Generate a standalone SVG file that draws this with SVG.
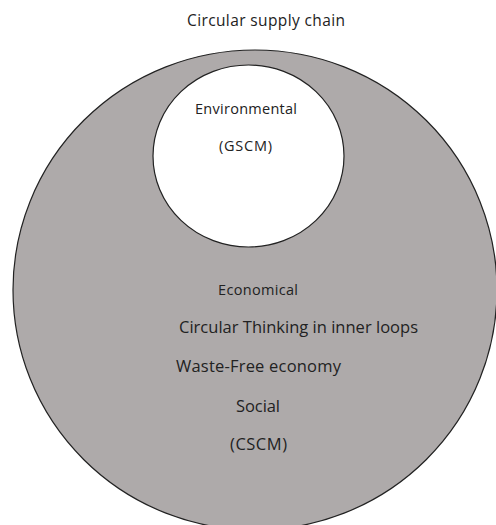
<svg xmlns="http://www.w3.org/2000/svg" width="496" height="525" viewBox="0 0 496 525">
<style>
text{font-family:"Open Sans","Noto Sans",sans-serif;fill:#222}
.s{font-size:14.5px}
.t{font-size:15.5px}
.l{font-size:16.5px}
</style>
<rect width="496" height="525" fill="#fff"/>
<text class="t" x="187" y="26" textLength="158">Circular supply chain</text>
<g id="outer">
<ellipse cx="255" cy="290" rx="242" ry="240" fill="#aeaaaa" stroke="#222" stroke-width="1.2"/>
</g>
<g id="inner">
<ellipse cx="248.5" cy="156" rx="95.5" ry="91" fill="#fff" stroke="#222" stroke-width="1.2"/>
<text class="s" x="195" y="114" textLength="102">Environmental</text>
<text class="s" x="219" y="151" textLength="53">(GSCM)</text>
</g>
<g id="labels">
<text class="s" x="218" y="295" textLength="80">Economical</text>
<text class="l" x="179" y="333" textLength="239">Circular Thinking in inner loops</text>
<text class="l" x="176" y="372" textLength="165">Waste-Free economy</text>
<text class="l" x="236" y="412" textLength="44">Social</text>
<text class="l" x="230" y="450" textLength="57">(CSCM)</text>
</g>
<g id="connectors"/>
</svg>
